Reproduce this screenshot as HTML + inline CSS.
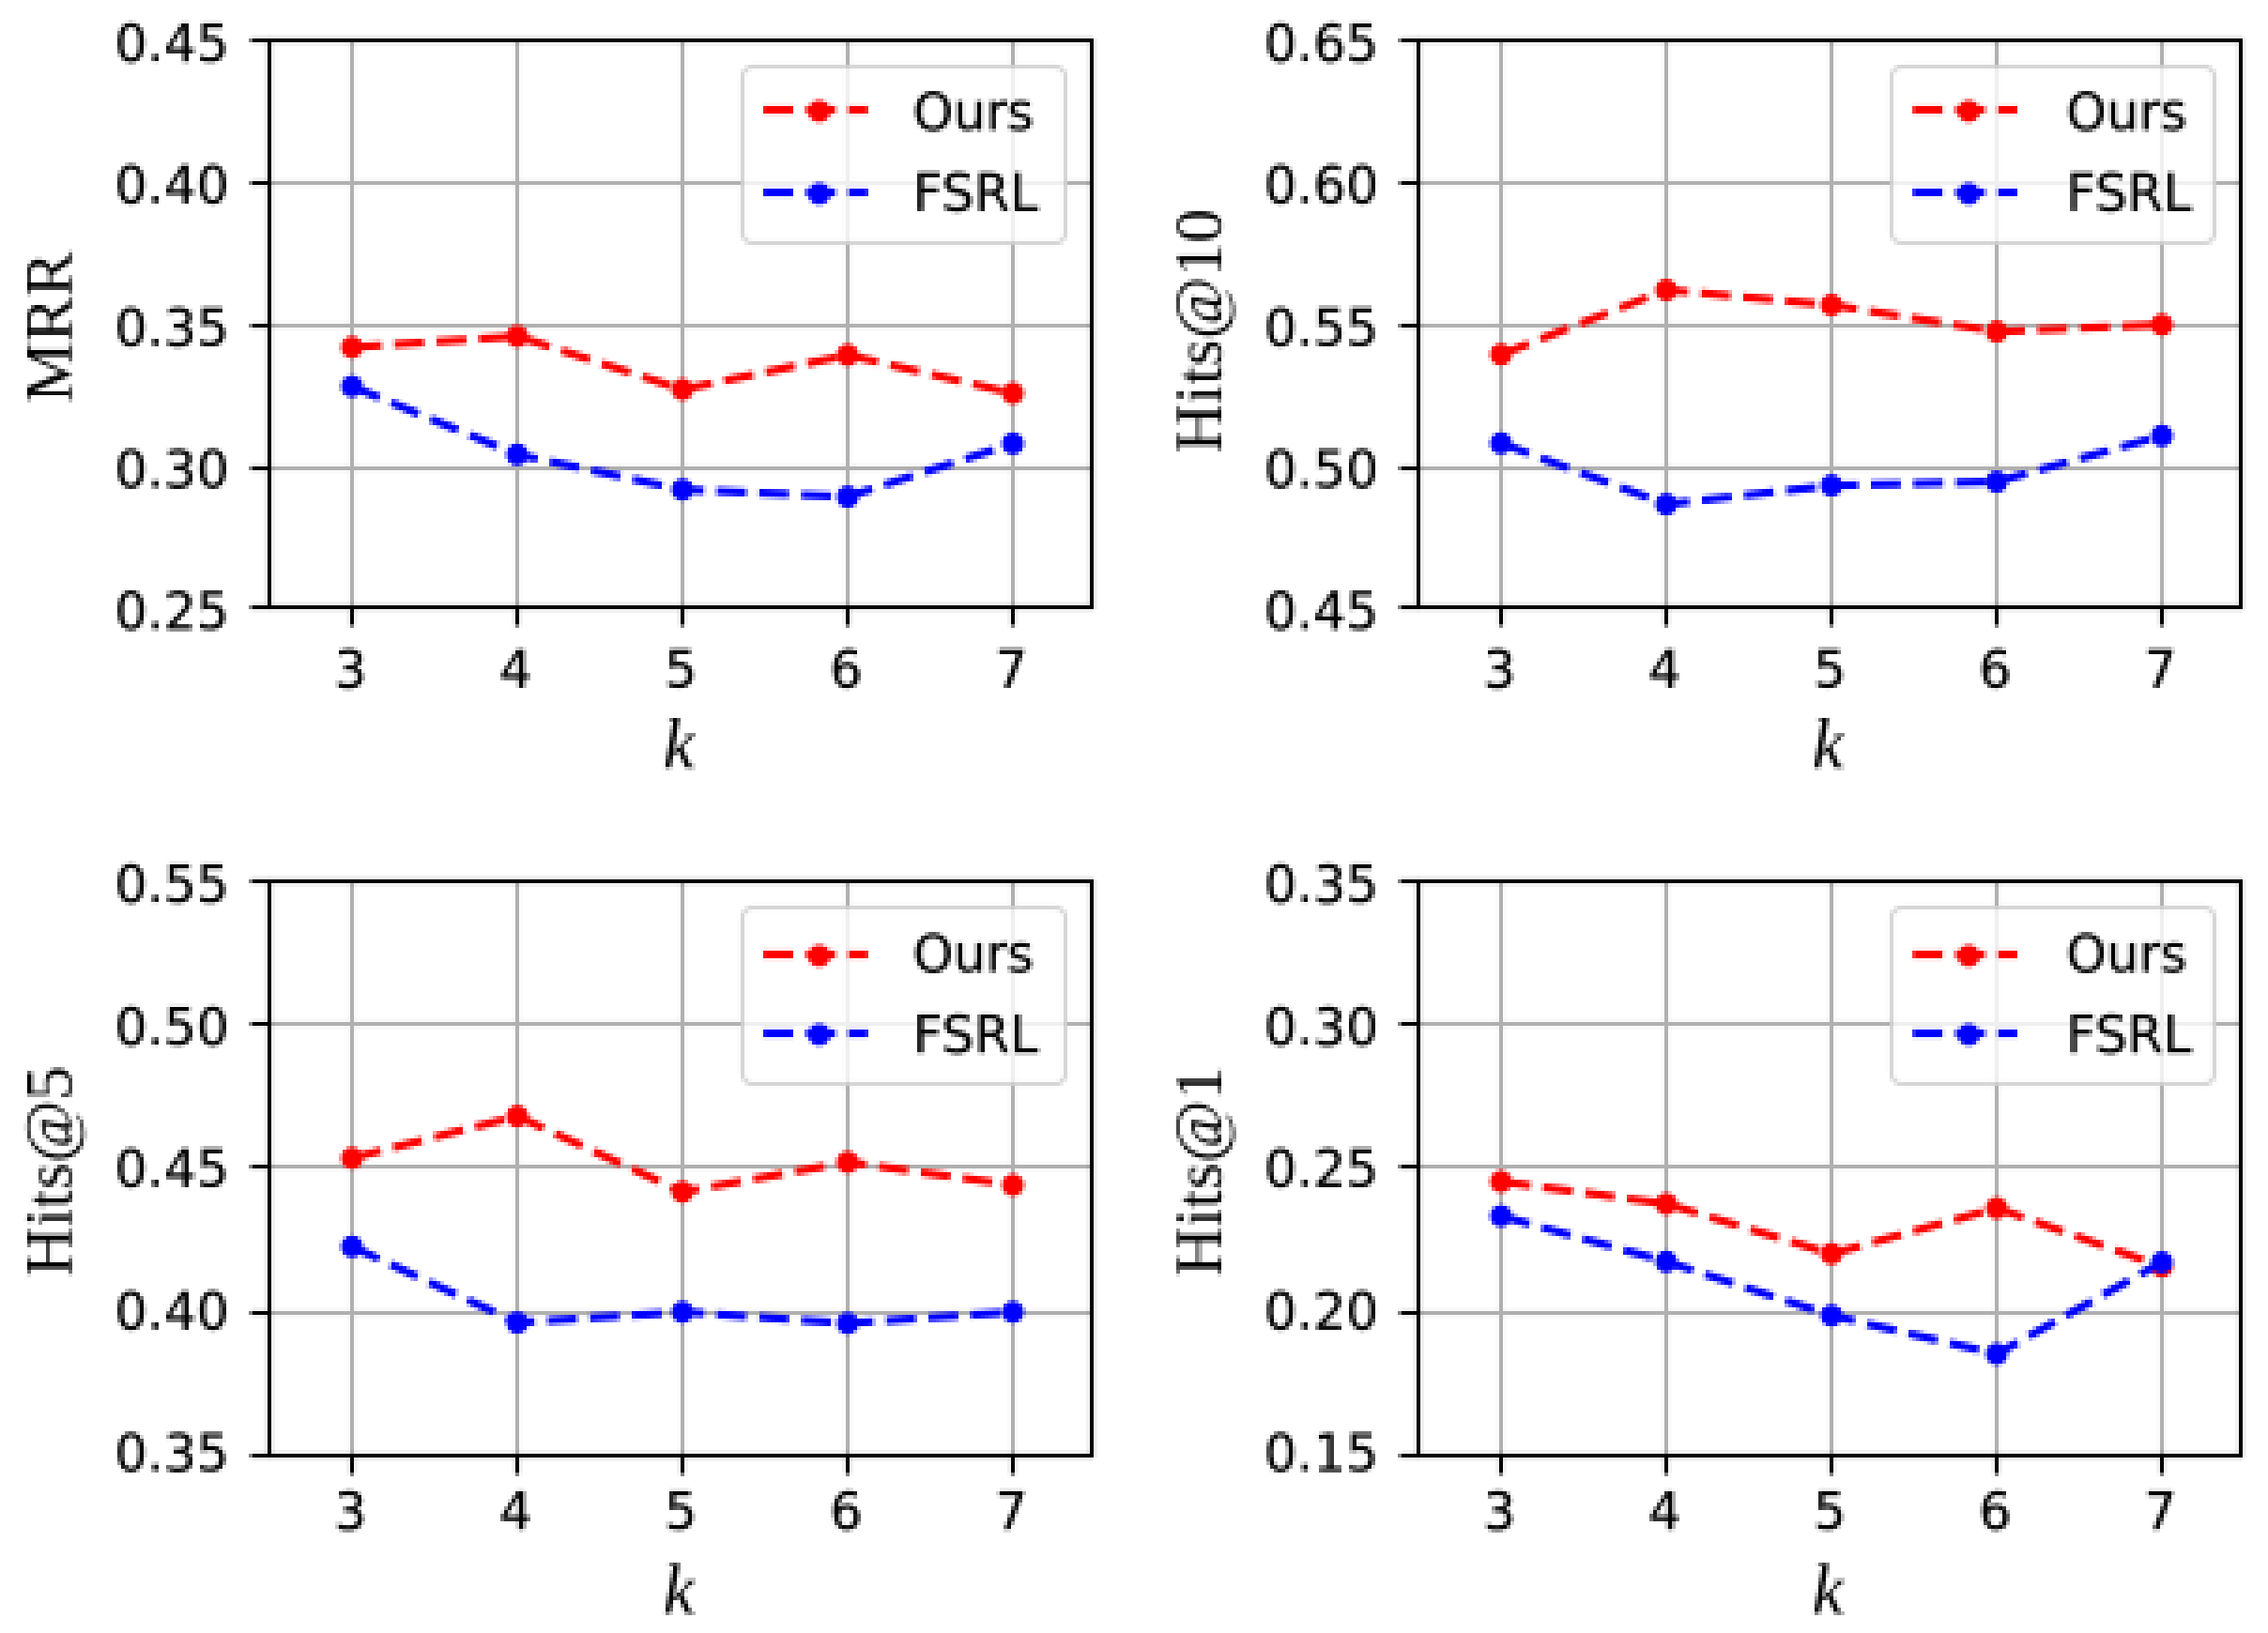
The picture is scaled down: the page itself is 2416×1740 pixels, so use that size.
<!DOCTYPE html>
<html lang="en"><head><meta charset="utf-8"><title>Few-shot size k comparison: Ours vs FSRL</title>
<style>
html,body{margin:0;padding:0;background:#fff;}
body{width:2416px;height:1740px;overflow:hidden;}
svg{display:block;}
.tk{font-family:"DejaVu Sans","Liberation Sans",sans-serif;font-size:54.7px;fill:#000;stroke:#000;stroke-width:0.5px;}
.lb{font-family:"Liberation Serif","DejaVu Serif",serif;font-size:72.5px;fill:#000;}
.it{font-style:italic;font-size:76px;}
.grid line{stroke:#b0b0b0;stroke-width:4.44;}
.ticks line{stroke:#000;stroke-width:4.44;}
.spine{fill:none;stroke:#000;stroke-width:4.44;}
.dl{fill:none;stroke-width:8.5;stroke-dasharray:31.6 13.6;stroke-linejoin:round;}
.r{stroke:#f00;}.b{stroke:#00f;}.rm{fill:#f00;}.bm{fill:#00f;}
</style></head><body>
<svg width="2416" height="1740" viewBox="0 0 2416 1740">
<defs><filter id="px" filterUnits="userSpaceOnUse" primitiveUnits="userSpaceOnUse" x="0" y="0" width="2416" height="1740" color-interpolation-filters="sRGB">
<feConvolveMatrix in="SourceGraphic" order="4" kernelMatrix="1 1 1 1 1 1 1 1 1 1 1 1 1 1 1 1" divisor="16" targetX="1" targetY="1" edgeMode="duplicate" preserveAlpha="false" result="avg"/>
<feFlood x="2" y="2" width="1" height="1" flood-color="#000" flood-opacity="1" result="dot"/>
<feOffset in="dot" dx="0" dy="0" x="1" y="1" width="4" height="4" result="cell"/>
<feTile in="cell" result="mask"/>
<feComposite in="avg" in2="mask" operator="in" result="samp"/>
<feMorphology in="samp" operator="dilate" radius="1" result="d3"/>
<feOffset in="d3" dx="1" dy="0" result="d3x"/>
<feMerge result="m1"><feMergeNode in="d3"/><feMergeNode in="d3x"/></feMerge>
<feOffset in="m1" dx="0" dy="1" result="m1y"/>
<feMerge><feMergeNode in="m1"/><feMergeNode in="m1y"/></feMerge>
</filter></defs>
<rect width="2416" height="1740" fill="#fff"/>
<g filter="url(#px)">
<rect width="2416" height="1740" fill="#fff"/>
<g>
<g class="grid">
<line x1="375" y1="43" x2="375" y2="647"/>
<line x1="551" y1="43" x2="551" y2="647"/>
<line x1="727" y1="43" x2="727" y2="647"/>
<line x1="903" y1="43" x2="903" y2="647"/>
<line x1="1079" y1="43" x2="1079" y2="647"/>
<line x1="287" y1="195" x2="1163" y2="195"/>
<line x1="287" y1="347" x2="1163" y2="347"/>
<line x1="287" y1="499" x2="1163" y2="499"/>
</g>
<polyline class="dl r" points="375,370 551,358.3 727,415 903,378.3 1079,419"/>
<g class="rm"><circle cx="375" cy="370" r="11.8"/><circle cx="551" cy="358.3" r="11.8"/><circle cx="727" cy="415" r="11.8"/><circle cx="903" cy="378.3" r="11.8"/><circle cx="1079" cy="419" r="11.8"/></g>
<polyline class="dl b" points="375,411.7 551,484.3 727,521.7 903,529.3 1079,472.7"/>
<g class="bm"><circle cx="375" cy="411.7" r="11.8"/><circle cx="551" cy="484.3" r="11.8"/><circle cx="727" cy="521.7" r="11.8"/><circle cx="903" cy="529.3" r="11.8"/><circle cx="1079" cy="472.7" r="11.8"/></g>
<g class="ticks">
<line x1="375" y1="647" x2="375" y2="667"/>
<line x1="551" y1="647" x2="551" y2="667"/>
<line x1="727" y1="647" x2="727" y2="667"/>
<line x1="903" y1="647" x2="903" y2="667"/>
<line x1="1079" y1="647" x2="1079" y2="667"/>
<line x1="267" y1="43" x2="287" y2="43"/>
<line x1="267" y1="195" x2="287" y2="195"/>
<line x1="267" y1="347" x2="287" y2="347"/>
<line x1="267" y1="499" x2="287" y2="499"/>
<line x1="267" y1="647" x2="287" y2="647"/>
</g>
<rect class="spine" x="287" y="43" width="876" height="604"/>
<text class="tk" text-anchor="end" x="244" y="64.8">0.45</text>
<text class="tk" text-anchor="end" x="244" y="216.2">0.40</text>
<text class="tk" text-anchor="end" x="244" y="367.6">0.35</text>
<text class="tk" text-anchor="end" x="244" y="519">0.30</text>
<text class="tk" text-anchor="end" x="244" y="670.4">0.25</text>
<text class="tk" text-anchor="middle" x="373.5" y="732.2">3</text>
<text class="tk" text-anchor="middle" x="549.5" y="732.2">4</text>
<text class="tk" text-anchor="middle" x="725.5" y="732.2">5</text>
<text class="tk" text-anchor="middle" x="901.5" y="732.2">6</text>
<text class="tk" text-anchor="middle" x="1077.5" y="732.2">7</text>
<text class="lb it" text-anchor="middle" x="723" y="818.2">k</text>
<text class="lb" text-anchor="middle" transform="translate(76.2 348.5) rotate(-90)">MRR</text>
<rect x="791" y="71" width="344" height="188" rx="11" ry="11" fill="#fff" fill-opacity="0.8" stroke="#ccc" stroke-opacity="0.8" stroke-width="4.44"/>
<line class="dl r" x1="813.3" y1="117" x2="924.4" y2="117"/>
<circle class="rm" cx="872.7" cy="118.5" r="11.8"/>
<text class="tk" x="972.5" y="138.2">Ours</text>
<line class="dl b" x1="813.3" y1="205" x2="924.4" y2="205"/>
<circle class="bm" cx="872.7" cy="206.5" r="11.8"/>
<text class="tk" x="972.5" y="224.2">FSRL</text>
</g>
<g>
<g class="grid">
<line x1="1599" y1="43" x2="1599" y2="647"/>
<line x1="1775" y1="43" x2="1775" y2="647"/>
<line x1="1951" y1="43" x2="1951" y2="647"/>
<line x1="2127" y1="43" x2="2127" y2="647"/>
<line x1="2303" y1="43" x2="2303" y2="647"/>
<line x1="1511" y1="195" x2="2387" y2="195"/>
<line x1="1511" y1="347" x2="2387" y2="347"/>
<line x1="1511" y1="499" x2="2387" y2="499"/>
</g>
<polyline class="dl r" points="1599,377.7 1775,309 1951,325 2127,353.3 2303,346"/>
<g class="rm"><circle cx="1599" cy="377.7" r="11.8"/><circle cx="1775" cy="309" r="11.8"/><circle cx="1951" cy="325" r="11.8"/><circle cx="2127" cy="353.3" r="11.8"/><circle cx="2303" cy="346" r="11.8"/></g>
<polyline class="dl b" points="1599,472.3 1775,537.3 1951,517.3 2127,513.3 2303,464.3"/>
<g class="bm"><circle cx="1599" cy="472.3" r="11.8"/><circle cx="1775" cy="537.3" r="11.8"/><circle cx="1951" cy="517.3" r="11.8"/><circle cx="2127" cy="513.3" r="11.8"/><circle cx="2303" cy="464.3" r="11.8"/></g>
<g class="ticks">
<line x1="1599" y1="647" x2="1599" y2="667"/>
<line x1="1775" y1="647" x2="1775" y2="667"/>
<line x1="1951" y1="647" x2="1951" y2="667"/>
<line x1="2127" y1="647" x2="2127" y2="667"/>
<line x1="2303" y1="647" x2="2303" y2="667"/>
<line x1="1491" y1="43" x2="1511" y2="43"/>
<line x1="1491" y1="195" x2="1511" y2="195"/>
<line x1="1491" y1="347" x2="1511" y2="347"/>
<line x1="1491" y1="499" x2="1511" y2="499"/>
<line x1="1491" y1="647" x2="1511" y2="647"/>
</g>
<rect class="spine" x="1511" y="43" width="876" height="604"/>
<text class="tk" text-anchor="end" x="1468.5" y="64.8">0.65</text>
<text class="tk" text-anchor="end" x="1468.5" y="216.2">0.60</text>
<text class="tk" text-anchor="end" x="1468.5" y="367.6">0.55</text>
<text class="tk" text-anchor="end" x="1468.5" y="519">0.50</text>
<text class="tk" text-anchor="end" x="1468.5" y="670.4">0.45</text>
<text class="tk" text-anchor="middle" x="1597.5" y="732.2">3</text>
<text class="tk" text-anchor="middle" x="1773.5" y="732.2">4</text>
<text class="tk" text-anchor="middle" x="1949.5" y="732.2">5</text>
<text class="tk" text-anchor="middle" x="2125.5" y="732.2">6</text>
<text class="tk" text-anchor="middle" x="2301.5" y="732.2">7</text>
<text class="lb it" text-anchor="middle" x="1947" y="818.2">k</text>
<text class="lb" text-anchor="middle" transform="translate(1300.7 352.5) rotate(-90)">Hits@10</text>
<rect x="2015" y="71" width="344" height="188" rx="11" ry="11" fill="#fff" fill-opacity="0.8" stroke="#ccc" stroke-opacity="0.8" stroke-width="4.44"/>
<line class="dl r" x1="2037.8" y1="117" x2="2148.9" y2="117"/>
<circle class="rm" cx="2097.2" cy="118.5" r="11.8"/>
<text class="tk" x="2201" y="138.2">Ours</text>
<line class="dl b" x1="2037.8" y1="205" x2="2148.9" y2="205"/>
<circle class="bm" cx="2097.2" cy="206.5" r="11.8"/>
<text class="tk" x="2201" y="224.2">FSRL</text>
</g>
<g>
<g class="grid">
<line x1="375" y1="939" x2="375" y2="1551"/>
<line x1="551" y1="939" x2="551" y2="1551"/>
<line x1="727" y1="939" x2="727" y2="1551"/>
<line x1="903" y1="939" x2="903" y2="1551"/>
<line x1="1079" y1="939" x2="1079" y2="1551"/>
<line x1="287" y1="1091" x2="1163" y2="1091"/>
<line x1="287" y1="1243" x2="1163" y2="1243"/>
<line x1="287" y1="1399" x2="1163" y2="1399"/>
</g>
<polyline class="dl r" points="375,1234 551,1189.3 727,1270 903,1238.3 1079,1262.7"/>
<g class="rm"><circle cx="375" cy="1234" r="11.8"/><circle cx="551" cy="1189.3" r="11.8"/><circle cx="727" cy="1270" r="11.8"/><circle cx="903" cy="1238.3" r="11.8"/><circle cx="1079" cy="1262.7" r="11.8"/></g>
<polyline class="dl b" points="375,1328.3 551,1409.3 727,1398 903,1410 1079,1398"/>
<g class="bm"><circle cx="375" cy="1328.3" r="11.8"/><circle cx="551" cy="1409.3" r="11.8"/><circle cx="727" cy="1398" r="11.8"/><circle cx="903" cy="1410" r="11.8"/><circle cx="1079" cy="1398" r="11.8"/></g>
<g class="ticks">
<line x1="375" y1="1551" x2="375" y2="1571"/>
<line x1="551" y1="1551" x2="551" y2="1571"/>
<line x1="727" y1="1551" x2="727" y2="1571"/>
<line x1="903" y1="1551" x2="903" y2="1571"/>
<line x1="1079" y1="1551" x2="1079" y2="1571"/>
<line x1="267" y1="939" x2="287" y2="939"/>
<line x1="267" y1="1091" x2="287" y2="1091"/>
<line x1="267" y1="1243" x2="287" y2="1243"/>
<line x1="267" y1="1399" x2="287" y2="1399"/>
<line x1="267" y1="1551" x2="287" y2="1551"/>
</g>
<rect class="spine" x="287" y="939" width="876" height="612"/>
<text class="tk" text-anchor="end" x="244" y="961.2">0.55</text>
<text class="tk" text-anchor="end" x="244" y="1112.65">0.50</text>
<text class="tk" text-anchor="end" x="244" y="1264.1">0.45</text>
<text class="tk" text-anchor="end" x="244" y="1415.55">0.40</text>
<text class="tk" text-anchor="end" x="244" y="1567">0.35</text>
<text class="tk" text-anchor="middle" x="373.5" y="1628.8">3</text>
<text class="tk" text-anchor="middle" x="549.5" y="1628.8">4</text>
<text class="tk" text-anchor="middle" x="725.5" y="1628.8">5</text>
<text class="tk" text-anchor="middle" x="901.5" y="1628.8">6</text>
<text class="tk" text-anchor="middle" x="1077.5" y="1628.8">7</text>
<text class="lb it" text-anchor="middle" x="723" y="1718.7">k</text>
<text class="lb" text-anchor="middle" transform="translate(76.2 1248) rotate(-90)">Hits@5</text>
<rect x="791" y="967" width="344" height="188" rx="11" ry="11" fill="#fff" fill-opacity="0.8" stroke="#ccc" stroke-opacity="0.8" stroke-width="4.44"/>
<line class="dl r" x1="813.3" y1="1017" x2="924.4" y2="1017"/>
<circle class="rm" cx="872.7" cy="1018.5" r="11.8"/>
<text class="tk" x="972.5" y="1034.6">Ours</text>
<line class="dl b" x1="813.3" y1="1101" x2="924.4" y2="1101"/>
<circle class="bm" cx="872.7" cy="1102.5" r="11.8"/>
<text class="tk" x="972.5" y="1120.6">FSRL</text>
</g>
<g>
<g class="grid">
<line x1="1599" y1="939" x2="1599" y2="1551"/>
<line x1="1775" y1="939" x2="1775" y2="1551"/>
<line x1="1951" y1="939" x2="1951" y2="1551"/>
<line x1="2127" y1="939" x2="2127" y2="1551"/>
<line x1="2303" y1="939" x2="2303" y2="1551"/>
<line x1="1511" y1="1091" x2="2387" y2="1091"/>
<line x1="1511" y1="1243" x2="2387" y2="1243"/>
<line x1="1511" y1="1399" x2="2387" y2="1399"/>
</g>
<polyline class="dl r" points="1599,1259 1775,1282.7 1951,1336 2127,1287.3 2303,1349.5"/>
<g class="rm"><circle cx="1599" cy="1259" r="11.8"/><circle cx="1775" cy="1282.7" r="11.8"/><circle cx="1951" cy="1336" r="11.8"/><circle cx="2127" cy="1287.3" r="11.8"/><circle cx="2303" cy="1349.5" r="11.8"/></g>
<polyline class="dl b" points="1599,1295.7 1775,1344.3 1951,1401.7 2127,1442.7 2303,1345"/>
<g class="bm"><circle cx="1599" cy="1295.7" r="11.8"/><circle cx="1775" cy="1344.3" r="11.8"/><circle cx="1951" cy="1401.7" r="11.8"/><circle cx="2127" cy="1442.7" r="11.8"/><circle cx="2303" cy="1345" r="11.8"/></g>
<g class="ticks">
<line x1="1599" y1="1551" x2="1599" y2="1571"/>
<line x1="1775" y1="1551" x2="1775" y2="1571"/>
<line x1="1951" y1="1551" x2="1951" y2="1571"/>
<line x1="2127" y1="1551" x2="2127" y2="1571"/>
<line x1="2303" y1="1551" x2="2303" y2="1571"/>
<line x1="1491" y1="939" x2="1511" y2="939"/>
<line x1="1491" y1="1091" x2="1511" y2="1091"/>
<line x1="1491" y1="1243" x2="1511" y2="1243"/>
<line x1="1491" y1="1399" x2="1511" y2="1399"/>
<line x1="1491" y1="1551" x2="1511" y2="1551"/>
</g>
<rect class="spine" x="1511" y="939" width="876" height="612"/>
<text class="tk" text-anchor="end" x="1468.5" y="961.2">0.35</text>
<text class="tk" text-anchor="end" x="1468.5" y="1112.65">0.30</text>
<text class="tk" text-anchor="end" x="1468.5" y="1264.1">0.25</text>
<text class="tk" text-anchor="end" x="1468.5" y="1415.55">0.20</text>
<text class="tk" text-anchor="end" x="1468.5" y="1567">0.15</text>
<text class="tk" text-anchor="middle" x="1597.5" y="1628.8">3</text>
<text class="tk" text-anchor="middle" x="1773.5" y="1628.8">4</text>
<text class="tk" text-anchor="middle" x="1949.5" y="1628.8">5</text>
<text class="tk" text-anchor="middle" x="2125.5" y="1628.8">6</text>
<text class="tk" text-anchor="middle" x="2301.5" y="1628.8">7</text>
<text class="lb it" text-anchor="middle" x="1947" y="1718.7">k</text>
<text class="lb" text-anchor="middle" transform="translate(1300.7 1248) rotate(-90)">Hits@1</text>
<rect x="2015" y="967" width="344" height="188" rx="11" ry="11" fill="#fff" fill-opacity="0.8" stroke="#ccc" stroke-opacity="0.8" stroke-width="4.44"/>
<line class="dl r" x1="2037.8" y1="1017" x2="2148.9" y2="1017"/>
<circle class="rm" cx="2097.2" cy="1018.5" r="11.8"/>
<text class="tk" x="2201" y="1034.6">Ours</text>
<line class="dl b" x1="2037.8" y1="1101" x2="2148.9" y2="1101"/>
<circle class="bm" cx="2097.2" cy="1102.5" r="11.8"/>
<text class="tk" x="2201" y="1120.6">FSRL</text>
</g>
</g>
</svg></body></html>
